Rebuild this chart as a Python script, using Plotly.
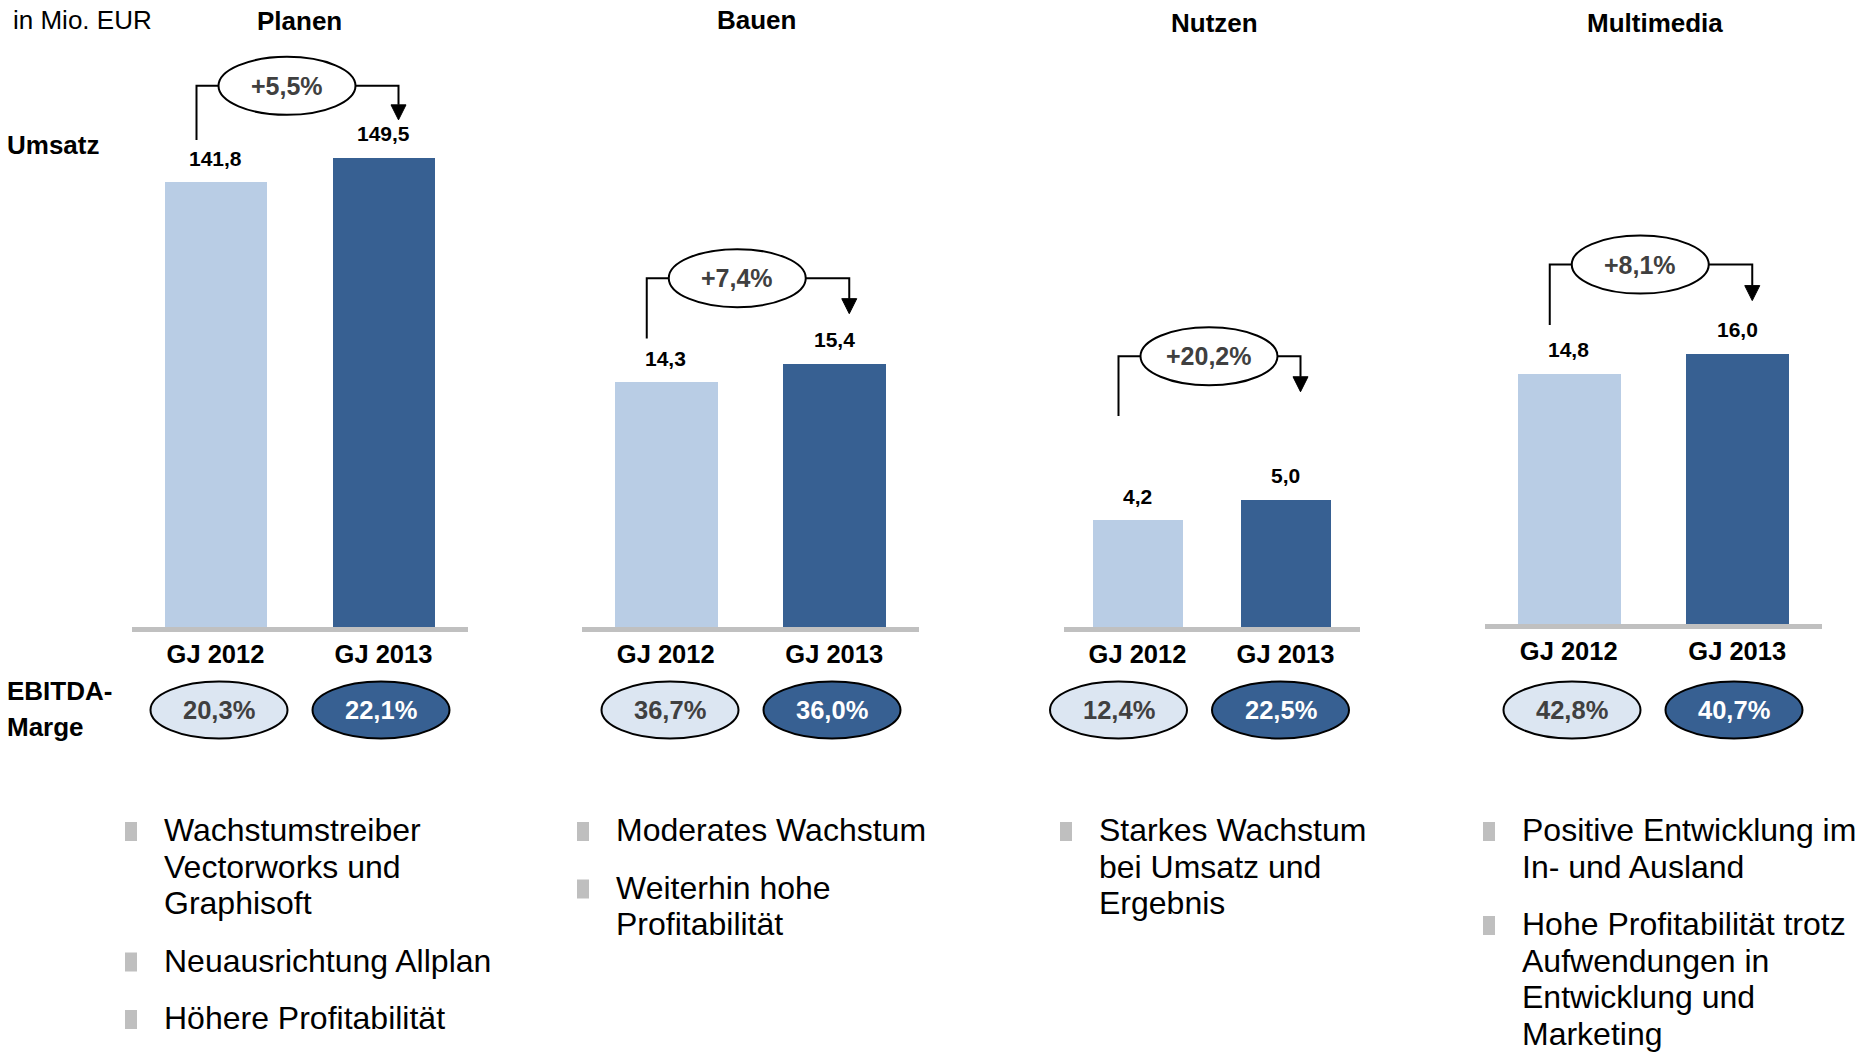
import plotly.graph_objects as go

W, H = 1866, 1054
FONT = "Liberation Sans, Arial, sans-serif"

# ---------------- data ----------------
segments = ["Planen", "Bauen", "Nutzen", "Multimedia"]
years = ["GJ 2012", "GJ 2013"]
umsatz_2012 = [141.8, 14.3, 4.2, 14.8]
umsatz_2013 = [149.5, 15.4, 5.0, 16.0]
umsatz_growth = [5.5, 7.4, 20.2, 8.1]
ebitda_marge_2012 = [20.3, 36.7, 12.4, 42.8]
ebitda_marge_2013 = [22.1, 36.0, 22.5, 40.7]
bullet_points = [
    ["Wachstumstreiber\nVectorworks und\nGraphisoft", "Neuausrichtung Allplan", "Höhere Profitabilität"],
    ["Moderates Wachstum", "Weiterhin hohe\nProfitabilität"],
    ["Starkes Wachstum\nbei Umsatz und\nErgebnis"],
    ["Positive Entwicklung im\nIn- und Ausland",
     "Hohe Profitabilität trotz\nAufwendungen in\nEntwicklung und\nMarketing"],
]

# ---------------- geometry (pixels) ----------------
panel_x = [(131.5, 467.5), (581.5, 918.5), (1063.5, 1359.5), (1484.5, 1821.5)]
panel_base = [627, 627, 627, 624]
panel_ppy = [3.138, 17.1, 25.45, 16.9]      # pixels per Mio. EUR in each panel
title_cx = [299, 756, 1214, 1655]
title_cy = [21.5, 19.5, 23, 23]
bracket_level = [72, 85.5, 143.5, 89]       # growth ellipse centre above the 2013 bar
bracket_start = [42, 44, 104, 49]           # left stem end above the 2012 bar
bracket_tip = [38, 50, 108, 53]             # arrow tip above the 2013 bar
margin_shift = [0.5, 1, -12, 0]             # margin ellipse pair offset from panel centre
text_left = [162, 614, 1097, 1520]
BULLET_TOP = 830       # centre of the first bullet line
LINE_STEP = 36.5
ITEM_GAP = 21

LIGHT = "#b9cde5"
DARK = "#376092"
PALE = "#dce6f2"
GREY_TEXT = "#404040"
RULE = "#c0c0c0"


def de(v, d=1):
    return f"{v:.{d}f}".replace(".", ",")


def py(y):
    return 1 - y / H


def px(x):
    return x / W


fig = go.Figure()
annotations = []
shapes = []
layout_axes = {}

for i, seg in enumerate(segments):
    sfx = "" if i == 0 else str(i + 1)
    xa, ya = "x" + sfx, "y" + sfx
    x0p, x1p = panel_x[i]
    base = panel_base[i]
    ppx = (x1p - x0p) / 2.0
    ppy = panel_ppy[i]

    layout_axes["xaxis" + sfx] = dict(
        domain=[px(x0p), px(x1p)], range=[-0.5, 1.5], anchor=ya,
        tickvals=[0, 1], ticktext=years, ticks="", showgrid=False, zeroline=False,
        showline=True, linecolor=RULE, linewidth=5,
        tickfont=dict(family=FONT, size=25.5, color="black", weight="bold"),
        fixedrange=True,
    )
    layout_axes["yaxis" + sfx] = dict(
        domain=[py(base), 1], range=[0, base / ppy], anchor=xa,
        visible=False, fixedrange=True,
    )

    vals = [umsatz_2012[i], umsatz_2013[i]]
    fig.add_trace(go.Bar(
        x=[0, 1], y=vals, width=0.61, marker=dict(color=[LIGHT, DARK], line=dict(width=0)),
        xaxis=xa, yaxis=ya, showlegend=False, hoverinfo="skip",
    ))

    # value labels above the bars
    for j, v in enumerate(vals):
        annotations.append(dict(
            x=j, y=v, xref=xa, yref=ya, text=f"<b>{de(v)}</b>", showarrow=False,
            yshift=24, yanchor="middle", xanchor="center",
            font=dict(family=FONT, size=21, color="black"),
        ))

    # growth bracket: stem from 2012, ellipse with the rate, arrow into 2013
    def dx(j, p):
        return j + p / ppx

    def dy(v, p):
        return v + p / ppy

    v12, v13 = vals
    left_x = dx(0, -19)
    right_x = dx(1, 15)
    lev = dy(v13, bracket_level[i])
    ell_l = dx(0, -19 + 22)
    ell_r = dx(0, -19 + 22 + 137)
    start = dy(v12, bracket_start[i])
    tip = dy(v13, bracket_tip[i])
    head = dy(v13, bracket_tip[i] + 15)
    line = dict(color="black", width=2)
    shapes.append(dict(type="path", xref=xa, yref=ya, line=line,
                       path=f"M {left_x},{start} L {left_x},{lev} L {ell_l},{lev}"))
    shapes.append(dict(type="path", xref=xa, yref=ya, line=line,
                       path=f"M {ell_r},{lev} L {right_x},{lev} L {right_x},{head}"))
    shapes.append(dict(type="path", xref=xa, yref=ya, line=dict(color="black", width=1),
                       fillcolor="black",
                       path=(f"M {dx(1, 15 - 7.5)},{head} L {dx(1, 15 + 7.5)},{head} "
                             f"L {right_x},{tip} Z")))
    shapes.append(dict(type="circle", xref=xa, yref=ya, x0=ell_l, x1=ell_r,
                       y0=dy(v13, bracket_level[i] - 29), y1=dy(v13, bracket_level[i] + 29),
                       fillcolor="white", line=line))
    annotations.append(dict(
        x=(ell_l + ell_r) / 2, y=lev, xref=xa, yref=ya, showarrow=False,
        text=f"<b>+{de(umsatz_growth[i])}%</b>", yanchor="middle", xanchor="center",
        font=dict(family=FONT, size=25, color=GREY_TEXT),
    ))

    # EBITDA margin ellipses (paper-referenced so they are never clipped by the panel)
    margins = [ebitda_marge_2012[i], ebitda_marge_2013[i]]
    mid = (x0p + x1p) / 2.0 + margin_shift[i]
    for j, m in enumerate(margins):
        cxp = mid + (-81 if j == 0 else 81)
        shapes.append(dict(type="circle", xref="paper", yref="paper",
                           x0=px(cxp - 68.5), x1=px(cxp + 68.5),
                           y0=py(710 + 28.5), y1=py(710 - 28.5),
                           fillcolor=PALE if j == 0 else DARK,
                           line=dict(color="black", width=2)))
        annotations.append(dict(
            x=px(cxp), y=py(710), xref="paper", yref="paper", showarrow=False,
            text=f"<b>{de(m)}%</b>", yanchor="middle", xanchor="center",
            font=dict(family=FONT, size=25.5, color=GREY_TEXT if j == 0 else "white"),
        ))

    # segment title
    annotations.append(dict(
        x=px(title_cx[i]), y=py(title_cy[i]), xref="paper", yref="paper", showarrow=False,
        text=f"<b>{seg}</b>", yanchor="middle", xanchor="center",
        font=dict(family=FONT, size=26, color="black"),
    ))

    # bullet list
    cy = BULLET_TOP
    tl = text_left[i]
    for item in bullet_points[i]:
        shapes.append(dict(type="rect", xref="paper", yref="paper",
                           x0=px(tl - 37), x1=px(tl - 25), y0=py(cy + 11), y1=py(cy - 8),
                           fillcolor="#bfbfbf", line=dict(width=0)))
        for line_text in item.split("\n"):
            annotations.append(dict(
                x=px(tl), y=py(cy), xref="paper", yref="paper", showarrow=False,
                text=line_text, xanchor="left", yanchor="middle",
                font=dict(family=FONT, size=32, color="black"),
            ))
            cy += LINE_STEP
        cy += ITEM_GAP

# row labels on the left
for text, cy, bold, size in [("in Mio. EUR", 19.5, False, 26), ("Umsatz", 145, True, 26),
                             ("EBITDA-", 691, True, 26), ("Marge", 727, True, 26)]:
    annotations.append(dict(
        x=px(5 if bold else 11), y=py(cy), xref="paper", yref="paper", showarrow=False,
        text=f"<b>{text}</b>" if bold else text, xanchor="left", yanchor="middle",
        font=dict(family=FONT, size=size, color="black"),
    ))

fig.update_layout(
    width=W, height=H, autosize=False,
    margin=dict(l=0, r=0, t=0, b=0),
    paper_bgcolor="white", plot_bgcolor="white",
    bargap=0, showlegend=False,
    annotations=annotations, shapes=shapes,
    font=dict(family=FONT),
    **layout_axes,
)

fig.write_html("out.html", config={"displayModeBar": False})
